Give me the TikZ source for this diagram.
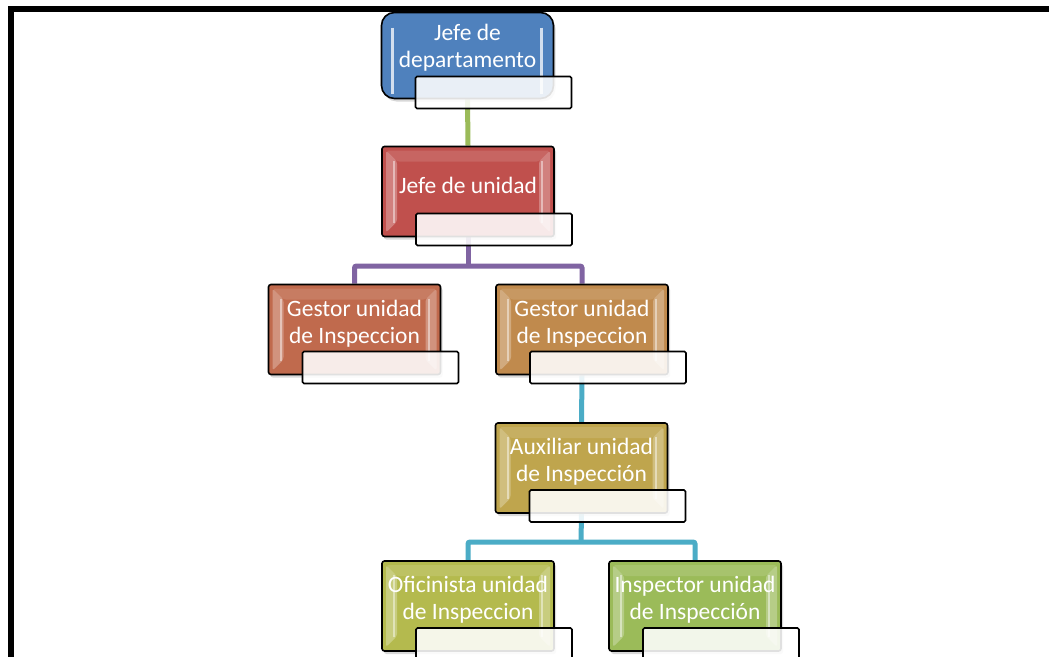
\documentclass[tikz,border=0pt]{standalone}
\usepackage{fontspec}
\setmainfont{Carlito}
\usetikzlibrary{shadows,calc}
\pgfdeclarelayer{bg}
\pgfsetlayers{bg,main}
\definecolor{cBlue}{HTML}{4F81BD}
\definecolor{cRed}{HTML}{C0504D}
\definecolor{cRust}{HTML}{C06A4D}
\definecolor{cTan}{HTML}{C08A4D}
\definecolor{cGold}{HTML}{BFA54D}
\definecolor{cOlive}{HTML}{B4BA4E}
\definecolor{cGreen}{HTML}{9BBB59}
\definecolor{cPurple}{HTML}{8064A2}
\definecolor{cCyan}{HTML}{4BACC6}
\tikzset{
  bevel/.style={path picture={
    \fill[white,opacity=0.28]
      ([shift={(4pt,-4pt)}]path picture bounding box.north west) --
      ([shift={(15pt,-15pt)}]path picture bounding box.north west) --
      ([shift={(15pt,15pt)}]path picture bounding box.south west) --
      ([shift={(4pt,4pt)}]path picture bounding box.south west) -- cycle;
    \fill[white,opacity=0.28]
      ([shift={(-4pt,-4pt)}]path picture bounding box.north east) --
      ([shift={(-15pt,-15pt)}]path picture bounding box.north east) --
      ([shift={(-15pt,15pt)}]path picture bounding box.south east) --
      ([shift={(-4pt,4pt)}]path picture bounding box.south east) -- cycle;
    \draw[white,opacity=0.45,line width=2pt]
      ([shift={(12pt,-14pt)}]path picture bounding box.north west) --
      ([shift={(12pt,14pt)}]path picture bounding box.south west);
    \draw[white,opacity=0.45,line width=2pt]
      ([shift={(-12pt,-14pt)}]path picture bounding box.north east) --
      ([shift={(-12pt,14pt)}]path picture bounding box.south east);
    \fill[white,opacity=0.12]
      ([shift={(4pt,-4pt)}]path picture bounding box.north west) --
      ([shift={(-4pt,-4pt)}]path picture bounding box.north east) --
      ([shift={(-15pt,-15pt)}]path picture bounding box.north east) --
      ([shift={(15pt,-15pt)}]path picture bounding box.north west) -- cycle;
  }},
  topglow/.style={path picture={
    \draw[cBlue!25!white,line width=2.5pt]
      ([shift={(11pt,-15pt)}]path picture bounding box.north west) --
      ([shift={(11pt,5pt)}]path picture bounding box.south west);
    \draw[cBlue!25!white,line width=2.5pt]
      ([shift={(-12pt,-15pt)}]path picture bounding box.north east) --
      ([shift={(-12pt,5pt)}]path picture bounding box.south east);
  }},
  post/.style={draw=black, line width=1.6pt, rounded corners=2.5pt,
    minimum width=172pt, minimum height=90pt, inner sep=0pt, fill=#1,
    drop shadow={opacity=0.3, shadow xshift=2pt, shadow yshift=-3pt}},
  caption/.style={draw=black, line width=1.6pt, fill=white, fill opacity=0.88,
    rounded corners=1.5pt, minimum width=156pt, minimum height=32pt, inner sep=0pt},
  title/.style={text=white, font=\fontsize{23.5}{27}\selectfont, align=center, inner sep=0pt},
  link/.style={line width=5pt, draw=#1, rounded corners=2pt},
}
\begin{document}
\begin{tikzpicture}[x=1pt,y=-1pt]
  \useasboundingbox (0,0) rectangle (1049,656);
  \begin{pgfonlayer}{bg}
    \fill[white] (0,0) rectangle (1049,656);
  \end{pgfonlayer}
  \clip (0,0) rectangle (1049,656);

  % outer frame (left and top sides)
  \draw[line width=6pt] (11,700) -- (11,9) -- (1100,9);

  % positions
  \node[post=cBlue, rounded corners=13pt, minimum height=86pt, topglow] (b1) at (467.5,55.5) {};
  \node[post=cRed, bevel]   (b2) at (468,191.5) {};
  \node[post=cRust, bevel]  (b3) at (354.5,329.5) {};
  \node[post=cTan, bevel]   (b4) at (582,329.5) {};
  \node[post=cGold, bevel]  (b5) at (581.5,468) {};
  \node[post=cOlive, bevel] (b6) at (468,606) {};
  \node[post=cGreen, bevel] (b7) at (695,606) {};

  % titles
  \node[title] (t1) at ($(b1.center)+(0,-8)$) {Jefe de\\departamento};
  \node[title] (t2) at ($(b2.center)+(0,-6)$) {Jefe de unidad};
  \node[title] (t3) at ($(b3.center)+(0,-6)$) {Gestor unidad\\de Inspeccion};
  \node[title] (t4) at ($(b4.center)+(0,-6)$) {Gestor unidad\\de Inspeccion};
  \node[title] (t5) at ($(b5.center)+(0,-6)$) {Auxiliar unidad\\de Inspección};
  \node[title] (t6) at ($(b6.center)+(0,-6)$) {Oficinista unidad\\de Inspeccion};
  \node[title] (t7) at ($(b7.center)+(0,-6)$) {Inspector unidad\\de Inspección};

  % name plates
  \node[caption] (c1) at ($(b1.center)+(26,37)$) {};
  \node[caption] (c2) at ($(b2.center)+(26,38)$) {};
  \node[caption] (c3) at ($(b3.center)+(26,38)$) {};
  \node[caption] (c4) at ($(b4.center)+(26,38)$) {};
  \node[caption] (c5) at ($(b5.center)+(26,38)$) {};
  \node[caption] (c6) at ($(b6.center)+(26,38)$) {};
  \node[caption] (c7) at ($(b7.center)+(26,38)$) {};

  % connectors
  \coordinate (j1) at (468,266);
  \coordinate (j2) at (581,542);
  \begin{pgfonlayer}{bg}
    \draw[link=cGreen] (b1.south) -- (b2.north);
    \draw[link=cPurple] (b2.south) -- (j1);
    \draw[link=cPurple] (b3.north) |- (j1) -| (b4.north);
    \draw[link=cCyan] (b4.south) -- (b5.north);
    \draw[link=cCyan] (b5.south) -- (j2);
    \draw[link=cCyan] (b6.north) |- (j2) -| (b7.north);
  \end{pgfonlayer}
\end{tikzpicture}
\end{document}
